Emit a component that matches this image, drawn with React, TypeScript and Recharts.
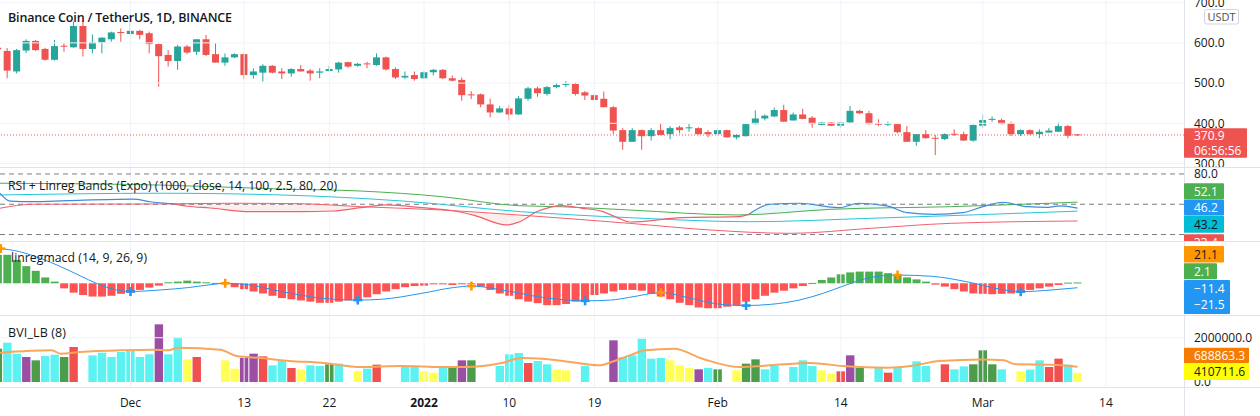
import React from 'react';
import { ComposedChart, Bar, Line, Area, Scatter, XAxis, YAxis, ReferenceLine, Cell } from 'recharts';

// ---------- layout constants ----------
const W = 1260;
const AXIS_W = 76;
const XMIN = -13.78;
const XMAX = 111.24;
const FONT = "'Open Sans', 'Noto Sans', sans-serif";
const TEXT = '#131722';
const GRID = '#f0f3fa';
const SEP = '#e0e3eb';
const UP = '#26a69a';
const DOWN = '#ef5350';

// ---------- data (day index: Dec 1 2021 = 0, first bar = Nov 17 = -14) ----------
const FIRST_DAY = -14;
const opens = [588,580,529,581,605,585,558,593,589,642,585,601,609,627,622,630,624,597,570,555,591,578,609,572,551,564,572,520,526,543,529,524,535,531,526,530,534,552,543,549,545,564,535,514,520,512,527,533,512,508,472,472,447,427,437,422,461,487,473,490,496,498,477,470,461,440,383,354,383,368,383,373,390,388,388,378,373,383,365,368,398,412,417,433,407,422,414,396,402,394,402,431,425,399,398,398,378,354,373,364,361,374,373,357,394,409,408,400,373,383,373,377,379,393,372.5];
const highs = [594,587,585,609,607,588,607,599,653,655,621,614,628,636,653,632,628,599,582,595,595,609,620,599,574,574,574,537,547,545,537,537,545,535,537,543,553,553,550,553,574,566,539,529,529,529,535,535,519,514,480,474,461,443,446,468,491,491,493,500,505,501,480,473,479,443,388,388,385,388,400,393,394,398,390,383,388,384,373,399,432,422,439,446,427,436,418,403,403,404,443,433,431,410,404,400,393,373,383,371,375,385,379,396,422,417,412,404,385,385,385,388,402,396,373];
const lows = [580,512,524,575,580,556,556,578,588,566,574,574,603,603,621,609,574,491,541,533,572,570,567,551,543,562,510,511,504,524,510,516,529,506,512,529,526,538,541,537,543,531,510,510,506,510,519,510,504,456,460,440,415,426,407,421,456,466,469,487,490,469,458,456,440,373,334,354,334,357,370,360,375,379,372,365,369,364,360,367,397,407,415,404,407,410,389,395,393,389,401,423,397,393,393,375,354,344,362,321,358,368,357,354,389,404,398,368,368,372,363,377,379,363,368];
const closes = [584,531,582,605,582,558,592,591,642,585,601,613,626,625,630,620,597,567,555,591,576,609,570,551,564,572,520,529,543,526,524,535,529,524,529,535,551,541,548,547,564,534,514,518,510,527,533,512,506,470,470,447,427,437,422,462,487,475,490,495,498,473,469,458,440,382,354,383,368,383,371,388,383,390,373,373,383,365,371,398,412,419,433,404,422,411,398,402,394,402,431,425,398,398,399,378,354,373,363,362,373,372,357,396,408,411,398,373,383,373,379,382,393,369,370.9];

const priceTicks = [300, 400, 500, 600, 700];
const LAST_PRICE = 370.9;
const COUNTDOWN = '06:56:56';

const dateTicks = [0, 12, 21, 31, 40, 49, 62, 75, 90, 103];
const dateLabels = ['Dec', '13', '22', '2022', '10', '19', 'Feb', '14', 'Mar', '14'];

// RSI + Linreg bands (sampled points: day, value)
const rsiD = [-13.8,-12.7,-10.3,-6.7,0.3,2.1,4.5,6,8.4,12.6,17.9,21.4,24.3,27,30.8,34.2,36.3,39.7,40.9,43,45.6,47.7,49.8,51.5,52.7,58.2,64.1,65.3,67.5,70.6,74.8,76.9,79.9,82,84.9,87.9,90,92.1,94.7,96.9,98.1,100];
const rsiV = [61,53,52.5,53.5,55,52.5,50.4,48,46.3,42.6,42.6,43.3,46.6,49.3,46.6,43.3,39,29.5,32,43,48.6,46,43,36.3,32.4,36.7,37.7,40,50,51,46.6,51,48.3,41.7,40,41.7,47.6,52,47.6,47,48.3,46.2];
const RSI_RED_FROM = 4.5;
const RSI_RED_TO = 65.3;
const upperD = [-13.8,3.2,15.9,24.3,32.9,40.9,45.6,52.7,64.1,74,86.6,100];
const upperV = [70.8,69,65.1,63.1,57.5,48.6,47.5,44.3,39.4,45,47.6,52.1];
const middleD = [-13.8,3.2,15.9,28.7,41.3,52.7,65.4,78.2,100];
const middleV = [59.2,60.9,59.2,53.2,42.6,36.7,32.7,36.1,43.2];
const lowerD = [-13.8,-10.3,3,10.8,18,24.3,32.9,40.9,52.7,61.2,69.7,78.2,86.6,100];
const lowerV = [46,50,50.3,51,50.5,47.6,44.3,39.4,31.1,24.5,21.2,26.2,31.1,33.4];
const pinkFillA = [[4.5,50.4,50.4],[6,48,50.6],[8.4,46.3,50.8],[12.6,42.6,51],[17.9,42.6,50.5],[21.4,43.3,49.5],[24,47.7,47.7]];
const pinkFillB = [[35,42,42],[36.3,39,41.8],[39.7,29.5,40],[40.9,32,39.4],[41.8,38.8,38.8]];
const tealFillA = [[65.3,40,40],[67.5,41,50],[70.6,42.5,51],[74.8,45,46.6],[76.9,45.6,51],[79.9,46.3,48.3],[80.8,46.5,46.5]];
const tealFillB = [[90.8,49,49],[92.1,49.5,52],[93.3,49.8,49.8]];
const rsiLevels = [80, 50, 20];

// linreg MACD histogram (one per day) and signal line
const histValues = [73,73,60,44,32,15,4.3,-13,-24,-30,-34,-34,-32,-27,-24,-17,-11,-6,2.6,4.3,6.8,4.3,2.6,0.9,-0.5,-10,-15,-21,-26,-32,-38,-41,-44,-47,-50,-50,-47,-44,-43,-36,-28,-21,-15,-10,-7,-6,-2.6,-2.6,-4.3,-2.6,-1,-8.5,-17,-26,-32,-41,-47,-51,-56,-56,-53,-47,-43,-30,-26,-21,-17,-17,-19,-27,-34,-41,-50,-56,-62,-64,-64,-60,-57,-47,-41,-32,-24,-19,-13,-7,0.9,8.5,15,23,28,30,30,30,26,21,15,10,4.3,-3.4,-8.5,-15,-21,-26,-27,-28,-27,-26,-23,-17,-13,-8.5,-4.3,1.7,2.1];
const signalD = [-14,-11.7,-9.5,-7.4,-5.3,-3.6,-1.5,0,3.2,6.1,8.3,10,12.5,15.9,20.1,24,26.5,30.7,34.1,36,39.2,43.5,48,50.7,52.7,56,59.1,62,65,67.6,70.6,73.1,75.6,78.2,81,84.6,88.3,91.8,94,97.3,100];
const signalV = [90,81,64,43,19,0,-17,-21,-17,-11,-4,0,-4,-21,-38,-43,-41,-26,-11,-7,-17,-36,-45,-43,-36,-24,-38,-53,-57,-54,-43,-26,-4,15,21.1,18,4,-15,-21.5,-17,-11.4];
const orangeMarkD = [-13.7, 10, 36, 56, 81];
const orangeMarkV = [89, 0, -7, -24, 21.1];
const blueMarkD = [0, 24, 48, 65, 94];
const blueMarkV = [-21, -43, -45, -57, -21.5];

// BVI_LB volume columns (one per day, null = no column) and its average
const volValues = [1505000,1776000,1279000,1129000,978000,1174000,1234000,1129000,1580000,null,1204000,1324000,1129000,1354000,1430000,1129000,1249000,2604000,1249000,2030000,1023000,1129000,null,null,978000,602000,1084000,1279000,1159000,752000,978000,632000,572000,752000,722000,798000,828000,null,482000,602000,783000,null,null,677000,677000,482000,421000,647000,722000,978000,978000,null,null,722000,1249000,1309000,858000,948000,798000,572000,527000,null,722000,null,null,1881000,1129000,1204000,1956000,1054000,1084000,978000,752000,632000,572000,632000,572000,null,527000,828000,1023000,572000,722000,null,677000,978000,722000,527000,376000,482000,1204000,632000,null,632000,421000,632000,null,933000,722000,null,798000,572000,707000,798000,1430000,798000,572000,null,482000,557000,978000,677000,1054000,783000,410711.6];
const volKinds = ['G','C','C','P','G','C','C','G','R','','C','C','C','C','C','C','C','P','C','C','Y','R','','','Y','Y','P','P','R','C','C','R','Y','C','C','G','C','','Y','C','R','','','C','C','Y','Y','C','G','P','G','','','C','C','C','R','C','C','Y','Y','','C','','','P','C','C','C','C','C','Y','Y','Y','P','C','G','','Y','G','G','C','C','','C','C','C','Y','Y','R','P','G','','C','R','C','','C','C','','R','C','C','G','G','G','C','','Y','C','C','R','R','C','Y'];
const volAvgD = [-13.8,-8.3,-7.4,-5.3,-1,2.3,4,5,9.5,11.2,13.8,16.8,20.1,24.4,28.6,32.9,35.4,39.2,41.3,43.5,46.4,49.4,51.1,52.7,54.4,57.4,60.4,64.2,67.6,71.8,75.2,79.9,82.4,85.4,90,92.2,93.5,97.3,100];
const volAvgV = [1320000,1430000,1280000,1350000,1430000,1460000,1430000,1550000,1460000,1170000,1080000,948000,873000,677000,722000,677000,677000,858000,1080000,1050000,903000,752000,948000,1200000,1430000,1500000,1050000,677000,752000,858000,722000,647000,722000,948000,1020000,978000,798000,783000,688863.3];
const volTicks = [0, 2000000];

const VOL_COLORS: Record<string, string> = { C: '#5df2f2', Y: '#ffff55', P: '#9b4ea4', G: '#4c9c4c', R: '#f24f4f' };

// ---------- derived tables ----------
const candles = opens.map((o, i) => ({ d: FIRST_DAY + i, o, h: highs[i], l: lows[i], c: closes[i], range: [lows[i], highs[i]] }));
const hist = histValues.map((h, i) => ({ d: FIRST_DAY + i, h }));
const vols = volValues.map((v, i) => ({ d: FIRST_DAY + i, v, k: volKinds[i] }));
const pts = (ds: number[], vs: number[]) => ds.map((d, i) => ({ d, v: vs[i] }));
const rsiAll = pts(rsiD, rsiV);
const rsiBlueA = rsiAll.filter((p) => p.d <= RSI_RED_FROM);
const rsiRed = rsiAll.filter((p) => p.d >= RSI_RED_FROM && p.d <= RSI_RED_TO);
const rsiBlueB = rsiAll.filter((p) => p.d >= RSI_RED_TO);
const rangeRows = (rows: number[][]) => rows.map(([d, lo, hi]) => ({ d, r: [lo, hi] }));

// ---------- shapes ----------
const Candle = (props: any) => {
  const { x, y, width, height, payload } = props;
  if (x == null || y == null || !payload) return null;
  const { o, h, l, c } = payload;
  const top = Math.min(y, y + height);
  const hh = Math.abs(height);
  const ppu = hh / (h - l);
  const cx = x + width / 2;
  const bTop = top + (h - Math.max(o, c)) * ppu;
  const bBot = top + (h - Math.min(o, c)) * ppu;
  const col = c >= o ? UP : DOWN;
  return (
    <g>
      <line x1={cx} x2={cx} y1={top} y2={top + hh} stroke={col} strokeWidth={1} />
      <rect x={cx - 3.5} y={bTop} width={7} height={Math.max(1, bBot - bTop)} fill={col} />
    </g>
  );
};

// column shape: keeps the library's centre and value extent, fixed column width
const column = (w: number, key: string) => (props: any) => {
  const { x, y, width, height, fill, payload } = props;
  if (x == null || y == null || !payload || payload[key] == null) return null;
  const cx = x + width / 2;
  const top = Math.min(y, y + height);
  const hh = Math.max(Math.abs(height), 1);
  return <rect x={cx - w / 2} y={top} width={w} height={hh} fill={fill} />;
};

const plus = (color: string) => (props: any) => {
  const { cx, cy } = props;
  if (cx == null || cy == null) return null;
  const s = 4.5;
  return (
    <g stroke={color} strokeWidth={2.6}>
      <line x1={cx - s} x2={cx + s} y1={cy} y2={cy} />
      <line x1={cx} x2={cx} y1={cy - s} y2={cy + s} />
    </g>
  );
};

const axisTick = (props: any) => {
  const { y, payload } = props;
  return (
    <text x={1194} y={y + 4.3} fontSize={12} fontFamily={FONT} fill={TEXT}>
      {Number(payload.value).toFixed(1)}
    </text>
  );
};

const dateTick = (props: any) => {
  const { x, payload } = props;
  const i = dateTicks.indexOf(payload.value);
  const label = dateLabels[i];
  return (
    <text x={x} y={90.5} textAnchor="middle" fontSize={12} fontFamily={FONT} fill={TEXT} fontWeight={label === '2022' ? 700 : 400}>
      {label}
    </text>
  );
};

const M = { top: 0, right: 0, bottom: 0, left: 0 };

const vGrid = () => dateTicks.map((t) => <ReferenceLine key={'vg' + t} x={t} stroke={GRID} strokeWidth={1} />);

const Box = ({ x1, x2, y1, y2, fill, color, lines }: any) => (
  <g>
    <rect x={x1} y={y1} width={x2 - x1} height={y2 - y1} fill={fill} rx={1} />
    {lines.map((l: any, i: number) => (
      <text key={i} x={1194} y={l.y} fontSize={12} fontFamily={FONT} fill={color}>
        {l.t}
      </text>
    ))}
  </g>
);

const fmt = (v: number) => (v < 0 ? '\u2212' + Math.abs(v).toFixed(1) : v.toFixed(1));

export default function App() {
  const lastUpper = upperV[upperV.length - 1];
  const lastRsi = rsiV[rsiV.length - 1];
  const lastMid = middleV[middleV.length - 1];
  const lastLow = lowerV[lowerV.length - 1];
  const lastHist = histValues[histValues.length - 1];
  const lastSignal = signalV[signalV.length - 1];
  const lastBlue = blueMarkV[blueMarkV.length - 1];
  const lastOrange = orangeMarkV[orangeMarkV.length - 1];
  const lastVolAvg = volAvgV[volAvgV.length - 1];
  const lastVol = volValues[volValues.length - 1] as number;

  return (
    <div style={{ position: 'absolute', left: 0, top: 0, width: W, height: 416, background: '#fff', overflow: 'hidden' }}>
      {/* price pane */}
      <div style={{ position: 'absolute', left: 0, top: 0 }}>
        <ComposedChart width={W} height={167} data={candles} margin={M}>
          <XAxis type="number" dataKey="d" domain={[XMIN, XMAX]} hide allowDataOverflow />
          <YAxis orientation="right" width={AXIS_W} type="number" domain={[291.3, 706.7]} ticks={priceTicks} interval={0} tickLine={false} axisLine={false} tick={axisTick} allowDataOverflow />
          {priceTicks.map((t) => <ReferenceLine key={'hg' + t} y={t} stroke={GRID} />)}
          {vGrid()}
          <ReferenceLine y={LAST_PRICE} stroke={DOWN} strokeDasharray="1 2" />
          <Bar dataKey="range" barSize={7} shape={Candle} isAnimationActive={false} />
        </ComposedChart>
      </div>

      {/* RSI pane */}
      <div style={{ position: 'absolute', left: 0, top: 168 }}>
        <ComposedChart width={W} height={73} margin={M}>
          <XAxis type="number" dataKey="d" domain={[XMIN, XMAX]} hide allowDataOverflow />
          <YAxis orientation="right" width={AXIS_W} type="number" domain={[13.6, 85.9]} ticks={[80]} interval={0} tickLine={false} axisLine={false} tick={axisTick} allowDataOverflow />
          {vGrid()}
          {rsiLevels.map((t) => <ReferenceLine key={'lv' + t} y={t} stroke="#787b86" strokeDasharray="5 4" />)}
          <Area data={rangeRows(pinkFillA)} dataKey="r" type="monotone" stroke="none" fill="rgba(239,83,80,0.16)" isAnimationActive={false} />
          <Area data={rangeRows(pinkFillB)} dataKey="r" type="monotone" stroke="none" fill="rgba(239,83,80,0.16)" isAnimationActive={false} />
          <Area data={rangeRows(tealFillA)} dataKey="r" type="monotone" stroke="none" fill="rgba(0,188,212,0.14)" isAnimationActive={false} />
          <Area data={rangeRows(tealFillB)} dataKey="r" type="monotone" stroke="none" fill="rgba(0,188,212,0.14)" isAnimationActive={false} />
          <Line data={pts(upperD, upperV)} dataKey="v" type="monotone" stroke="#4caf50" strokeWidth={1} dot={false} isAnimationActive={false} />
          <Line data={pts(middleD, middleV)} dataKey="v" type="monotone" stroke="#26c6da" strokeWidth={1} dot={false} isAnimationActive={false} />
          <Line data={pts(lowerD, lowerV)} dataKey="v" type="monotone" stroke="#f0616e" strokeWidth={1} dot={false} isAnimationActive={false} />
          <Line data={rsiBlueA} dataKey="v" type="monotone" stroke="#3d8bd9" strokeWidth={1.2} dot={false} isAnimationActive={false} />
          <Line data={rsiRed} dataKey="v" type="monotone" stroke="#f0616e" strokeWidth={1.2} dot={false} isAnimationActive={false} />
          <Line data={rsiBlueB} dataKey="v" type="monotone" stroke="#3d8bd9" strokeWidth={1.2} dot={false} isAnimationActive={false} />
        </ComposedChart>
      </div>

      {/* linreg MACD pane */}
      <div style={{ position: 'absolute', left: 0, top: 242 }}>
        <ComposedChart width={W} height={73} data={hist} margin={M}>
          <XAxis type="number" dataKey="d" domain={[XMIN, XMAX]} hide allowDataOverflow />
          <YAxis orientation="right" width={AXIS_W} type="number" domain={[-81.3, 105.9]} ticks={[]} tick={false} tickLine={false} axisLine={false} allowDataOverflow />
          {vGrid()}
          <Bar dataKey="h" barSize={8} shape={column(8, 'h')} isAnimationActive={false}>
            {hist.map((r, i) => <Cell key={i} fill={r.h >= 0 ? '#4caf50' : '#ff5252'} />)}
          </Bar>
          <Line data={pts(signalD, signalV)} dataKey="v" type="monotone" stroke="#2196f3" strokeWidth={1} dot={false} isAnimationActive={false} />
          <Scatter data={pts(orangeMarkD, orangeMarkV)} dataKey="v" shape={plus('#ff9800')} isAnimationActive={false} />
          <Scatter data={pts(blueMarkD, blueMarkV)} dataKey="v" shape={plus('#2196f3')} isAnimationActive={false} />
        </ComposedChart>
      </div>

      {/* BVI volume pane + time axis */}
      <div style={{ position: 'absolute', left: 0, top: 316 }}>
        <ComposedChart width={W} height={100} data={vols} margin={M}>
          <XAxis type="number" dataKey="d" domain={[XMIN, XMAX]} ticks={dateTicks} interval={0} height={28} tickLine={false} axisLine={false} tick={dateTick} allowDataOverflow />
          <YAxis orientation="right" width={AXIS_W} type="number" domain={[-271000, 2980000]} ticks={volTicks} interval={0} tickLine={false} axisLine={false} tick={axisTick} allowDataOverflow />
          <ReferenceLine y={2000000} stroke={GRID} />
          {vGrid()}
          <Bar dataKey="v" barSize={8} shape={column(8.4, 'v')} isAnimationActive={false}>
            {vols.map((r, i) => <Cell key={i} fill={VOL_COLORS[r.k] || 'transparent'} />)}
          </Bar>
          <Line data={pts(volAvgD, volAvgV)} dataKey="v" type="monotone" stroke="#f8a65a" strokeWidth={2} dot={false} isAnimationActive={false} />
        </ComposedChart>
      </div>

      {/* overlay: separators, legends, price labels */}
      <svg width={W} height={416} style={{ position: 'absolute', left: 0, top: 0, pointerEvents: 'none' }}>
        <defs>
          <clipPath id="rsiClip"><rect x={1184} y={168} width={76} height={73} /></clipPath>
        </defs>
        <line x1={0} x2={W} y1={167.5} y2={167.5} stroke={SEP} />
        <line x1={0} x2={W} y1={241.5} y2={241.5} stroke={SEP} />
        <line x1={0} x2={W} y1={315.5} y2={315.5} stroke={SEP} />
        <line x1={0} x2={W} y1={387.5} y2={387.5} stroke={SEP} />
        <line x1={1184.5} x2={1184.5} y1={0} y2={416} stroke={SEP} />

        <text x={8} y={21.5} fontSize={12.5} fontWeight={600} fontFamily={FONT} fill={TEXT} textLength={224} lengthAdjust="spacing">Binance Coin / TetherUS, 1D, BINANCE</text>
        <text x={8} y={190} fontSize={12.2} fontFamily={FONT} fill={TEXT} textLength={329} lengthAdjust="spacing">RSI + Linreg Bands (Expo) (1000, close, 14, 100, 2.5, 80, 20)</text>
        <text x={11} y={262} fontSize={12.2} fontFamily={FONT} fill={TEXT} textLength={136} lengthAdjust="spacing">linregmacd (14, 9, 26, 9)</text>
        <text x={8} y={337} fontSize={12.5} fontFamily={FONT} fill={TEXT} textLength={58} lengthAdjust="spacing">BVI_LB (8)</text>

        <rect x={1204.5} y={9.5} width={34} height={14.5} rx={2} fill="#fff" stroke="#d1d4dc" />
        <text x={1221.5} y={20.5} textAnchor="middle" fontSize={11} fontFamily={FONT} fill="#4a4e5a">USDT</text>

        <Box x1={1184} x2={1247} y1={128.3} y2={157.7} fill={DOWN} color="#fff" lines={[{ t: LAST_PRICE.toFixed(1), y: 140.3 }, { t: COUNTDOWN, y: 154.5 }]} />

        <Box x1={1184} x2={1224} y1={183.3} y2={199.3} fill="#4caf50" color="#fff" lines={[{ t: fmt(lastUpper), y: 195.6 }]} />
        <Box x1={1184} x2={1224} y1={199.5} y2={215.5} fill="#2196f3" color="#fff" lines={[{ t: fmt(lastRsi), y: 211.8 }]} />
        <Box x1={1184} x2={1224} y1={215.7} y2={232.7} fill="#00bcd4" color={TEXT} lines={[{ t: fmt(lastMid), y: 228.5 }]} />
        <g clipPath="url(#rsiClip)">
          <Box x1={1184} x2={1224} y1={234.3} y2={250.3} fill={DOWN} color="#fff" lines={[{ t: fmt(lastLow), y: 246.6 }]} />
        </g>

        <Box x1={1184} x2={1224} y1={246} y2={262.5} fill="#ff9800" color={TEXT} lines={[{ t: fmt(lastOrange), y: 258.5 }]} />
        <Box x1={1184} x2={1217} y1={263.3} y2={279.3} fill="#4caf50" color="#fff" lines={[{ t: fmt(lastHist), y: 275.6 }]} />
        <Box x1={1184} x2={1230} y1={280} y2={314} fill="#2196f3" color="#fff" lines={[{ t: fmt(lastSignal), y: 292.6 }, { t: fmt(lastBlue), y: 309 }]} />

        <Box x1={1184} x2={1249} y1={347.7} y2={363.3} fill="#f57c00" color="#fff" lines={[{ t: fmt(lastVolAvg), y: 359.8 }]} />
        <Box x1={1184} x2={1249} y1={364} y2={380} fill="#ffff00" color={TEXT} lines={[{ t: fmt(lastVol), y: 376.3 }]} />
      </svg>
    </div>
  );
}
